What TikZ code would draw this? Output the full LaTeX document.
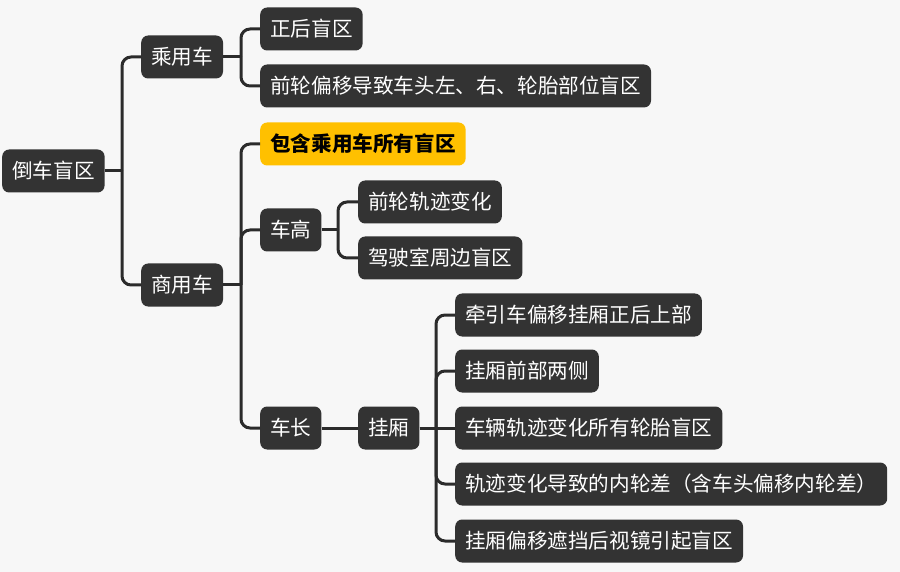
\documentclass[tikz,border=0pt]{standalone}
\usepackage{fontspec}
\setmainfont{Noto Sans CJK SC}
\definecolor{paper}{HTML}{F7F7F7}
\definecolor{box}{HTML}{333333}
\definecolor{wire}{HTML}{2B2B2B}
\definecolor{gold}{HTML}{FFC000}
\tikzset{
  topic/.style={fill=box, text=white, rounded corners=7pt, anchor=west,
    minimum height=43pt, inner xsep=10pt, inner ysep=0pt,
    font=\fontsize{20.6}{24}\selectfont},
  hilite/.style={topic, fill=gold, text=black,
    font=\fontsize{20.6}{24}\selectfont\bfseries},
  link/.style={draw=wire, line width=3pt, rounded corners=9pt}
}
\begin{document}
\begin{tikzpicture}[x=1pt,y=-1pt]
        \fill[paper] (0,0) rectangle (900,572);
        \useasboundingbox (0,0) rectangle (900,572);
        % main branches
        \node[topic] (root) at (2,171) {倒车盲区};
        \node[topic] (car) at (141,57) {乘用车};
        \node[topic] (truck) at (141,285) {商用车};
        % passenger car
        \node[topic] (rear) at (260,29) {正后盲区};
        \node[topic] (front) at (260,86) {前轮偏移导致车头左、右、轮胎部位盲区};
        % commercial vehicle
        \node[hilite] (all) at (260,144) {包含乘用车所有盲区};
        \node[topic] (high) at (260,230) {车高};
        \node[topic] (long) at (260,428) {车长};
        \node[topic] (track) at (358,202) {前轮轨迹变化};
        \node[topic] (cab) at (358,258) {驾驶室周边盲区};
        \node[topic] (trailer) at (358,428) {挂厢};
        \node[topic] (t1) at (455,315) {牵引车偏移挂厢正后上部};
        \node[topic] (t2) at (455,371) {挂厢前部两侧};
        \node[topic] (t3) at (455,428) {车辆轨迹变化所有轮胎盲区};
        \node[topic] (t4) at (455,484) {轨迹变化导致的内轮差（含车头偏移内轮差）};
        \node[topic] (t5) at (455,541) {挂厢偏移遮挡后视镜引起盲区};

        \foreach \p/\bus/\kids in {root/122/{car,truck}, car/241/{rear,front},
            truck/241/{all,high,long}, high/338/{track,cab},
            trailer/436/{t1,t2,t4,t5}}{
        \draw[link] (\p.east) -- (\bus,0 |- \p.east) coordinate (b);
        \foreach \c in \kids{
        \draw[link] (b) |- (\c.west);
        }
        }
        % straight runs
        \draw[link] (long) -- (trailer);
        \draw[link] (trailer) -- (t3);
\end{tikzpicture}
\end{document}
